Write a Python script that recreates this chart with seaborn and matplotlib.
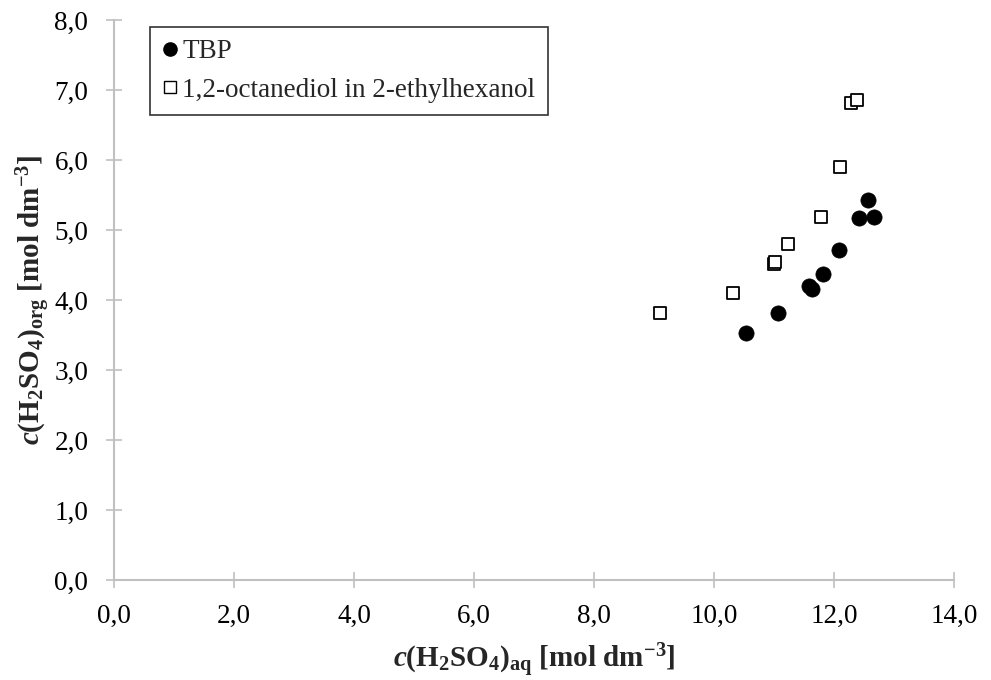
import matplotlib
matplotlib.use("Agg")
import matplotlib.pyplot as plt
from matplotlib.ticker import FuncFormatter
from matplotlib.lines import Line2D
import seaborn as sns
import pandas as pd

# Equilibrium sulfuric acid concentrations: aqueous phase vs organic phase
tbp_aq = [10.53, 11.07, 11.59, 11.64, 11.82, 12.09, 12.42, 12.57, 12.67]
tbp_org = [3.53, 3.82, 4.20, 4.16, 4.37, 4.71, 5.17, 5.43, 5.19]

diol_aq = [9.10, 10.31, 11.00, 11.02, 11.24, 11.79, 12.10, 12.29, 12.39]
diol_org = [3.81, 4.10, 4.52, 4.55, 4.80, 5.18, 5.90, 6.82, 6.86]

series_names = ["TBP", "1,2-octanediol in 2-ethylhexanol"]

x_ticks = [0, 2, 4, 6, 8, 10, 12, 14]
y_ticks = [0, 1, 2, 3, 4, 5, 6, 7, 8]

tbp = pd.DataFrame({"aq": tbp_aq, "org": tbp_org})
diol = pd.DataFrame({"aq": diol_aq, "org": diol_org})

sns.set_style("white")
plt.rcParams["font.family"] = ["Liberation Serif", "DejaVu Serif"]
plt.rcParams["mathtext.fontset"] = "custom"
plt.rcParams["mathtext.rm"] = "Liberation Serif:bold"
plt.rcParams["mathtext.bf"] = "Liberation Serif:bold"
plt.rcParams["mathtext.it"] = "Liberation Serif:italic:bold"

fig = plt.figure(figsize=(9.91, 6.80), dpi=100)
ax = fig.add_axes([114 / 991, 100 / 680, 840 / 991, 560 / 680])

sns.scatterplot(data=tbp, x="aq", y="org", ax=ax, marker="o", s=120,
                color="black", edgecolor="black", linewidth=0.5, zorder=3)
sns.scatterplot(data=diol, x="aq", y="org", ax=ax, marker="s", s=85,
                facecolor="white", edgecolor="black", linewidth=1.3, zorder=3)

ax.set_xlim(x_ticks[0], x_ticks[-1])
ax.set_ylim(y_ticks[0], y_ticks[-1])
ax.set_xticks(x_ticks)
ax.set_yticks(y_ticks)
comma = FuncFormatter(lambda v, _: f"{v:.1f}".replace(".", ","))
ax.xaxis.set_major_formatter(comma)
ax.yaxis.set_major_formatter(comma)

axis_grey = "#c0c0c0"
for side in ("top", "right"):
    ax.spines[side].set_visible(False)
for side in ("left", "bottom"):
    ax.spines[side].set_color(axis_grey)
    ax.spines[side].set_linewidth(1.5)
    ax.spines[side].set_zorder(1)
ax.tick_params(axis="both", which="major", direction="inout", length=12,
               width=1.2, color=axis_grey, labelsize=19.5, labelcolor="black",
               bottom=True, left=True, top=False, right=False)
ax.tick_params(axis="x", pad=11)
ax.tick_params(axis="y", pad=12.5)
ax.grid(False)

ax.set_xlabel(r"$c\mathbf{(H_2SO_4)_{aq}}$ [mol dm$^{\mathbf{-3}}$]",
              fontsize=21, fontweight="bold", labelpad=9)
ax.set_ylabel(r"$c\mathbf{(H_2SO_4)_{org}}$ [mol dm$^{\mathbf{-3}}$]",
              fontsize=21, fontweight="bold", labelpad=1)

handles = [
    Line2D([], [], linestyle="none", marker="o", markersize=9.5,
           markerfacecolor="black", markeredgecolor="black"),
    Line2D([], [], linestyle="none", marker="s", markersize=8.5,
           markerfacecolor="white", markeredgecolor="black", markeredgewidth=1.0),
]
leg = ax.legend(handles, series_names, loc="upper left",
                bbox_to_anchor=(36 / 840, 553 / 560), fontsize=19.5,
                frameon=True, fancybox=False, edgecolor="black",
                borderaxespad=0, handlelength=0.6, handletextpad=0.15,
                borderpad=0.45, labelspacing=0.5)
leg.get_frame().set_linewidth(1.2)

fig.savefig("out.png", dpi=100, facecolor="white")
